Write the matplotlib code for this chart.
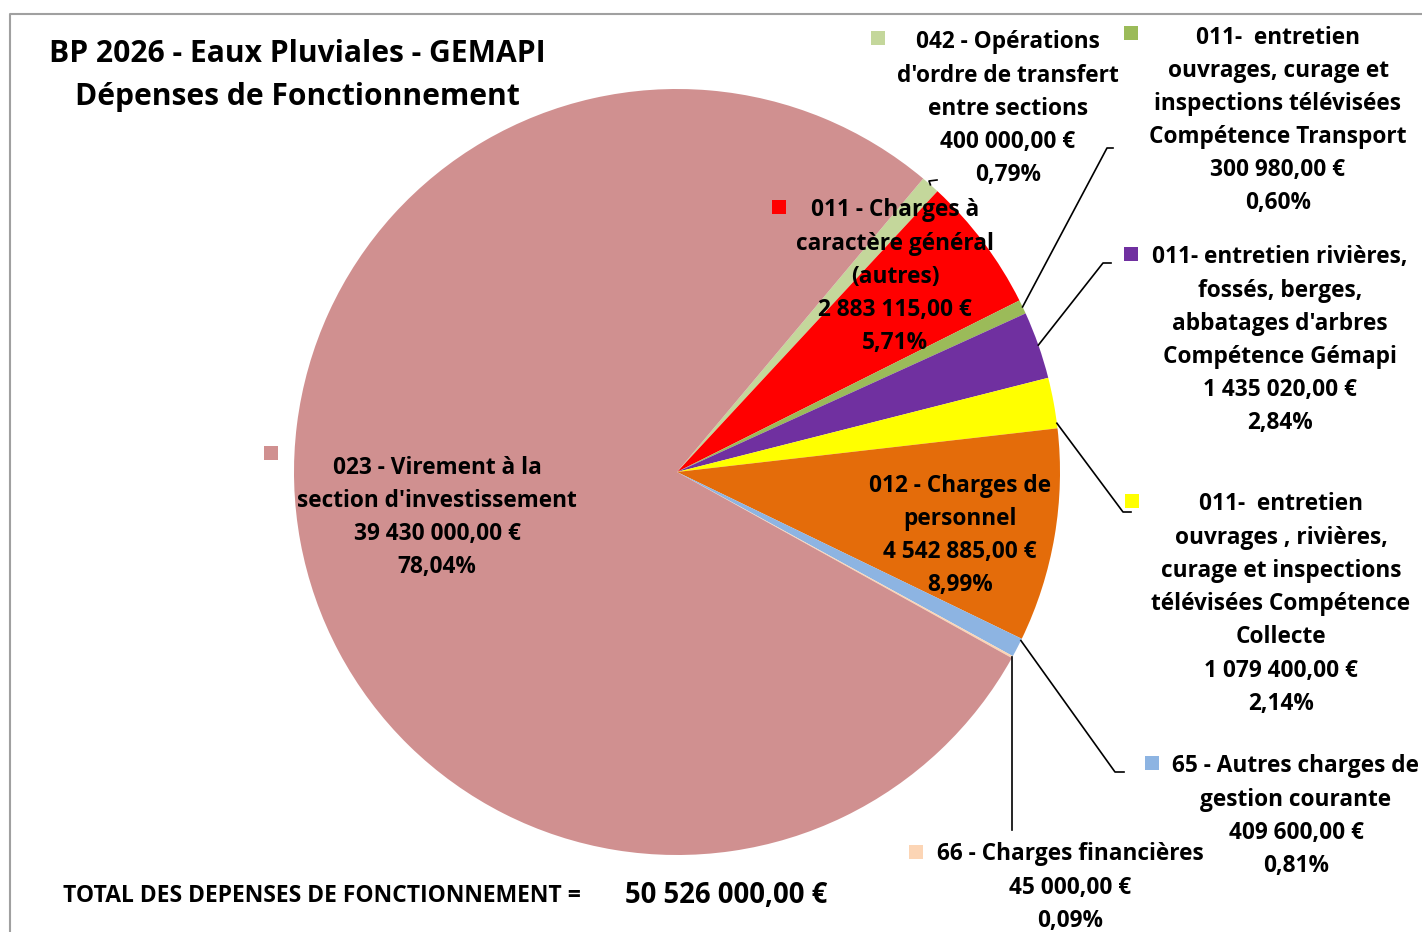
import matplotlib
matplotlib.use("Agg")
import matplotlib.pyplot as plt
from matplotlib.patches import Rectangle
import numpy as np

# ---- data (drawing order, clockwise) ----
codes = ["042", "011a", "011b", "011c", "011d", "012", "65", "66", "023"]
label_lines = [
    ["042 - Opérations", "d'ordre de transfert", "entre sections"],
    ["011 - Charges à", "caractère général", "(autres)"],
    ["011-  entretien", "ouvrages, curage et", "inspections télévisées", "Compétence Transport"],
    ["011- entretien rivières,", "fossés, berges,", "abbatages d'arbres", "Compétence Gémapi"],
    ["011-  entretien", "ouvrages , rivières,", "curage et inspections", "télévisées Compétence", "Collecte"],
    ["012 - Charges de", "personnel"],
    ["65 - Autres charges de", "gestion courante"],
    ["66 - Charges financières"],
    ["023 - Virement à la", "section d'investissement"],
]
amounts = ["400 000,00 €", "2 883 115,00 €", "300 980,00 €", "1 435 020,00 €",
           "1 079 400,00 €", "4 542 885,00 €", "409 600,00 €", "45 000,00 €",
           "39 430 000,00 €"]
values = [400000.00, 2883115.00, 300980.00, 1435020.00, 1079400.00,
          4542885.00, 409600.00, 45000.00, 39430000.00]
percents = ["0,79%", "5,71%", "0,60%", "2,84%", "2,14%", "8,99%", "0,81%", "0,09%", "78,04%"]
colors = ["#C4D79B", "#FF0000", "#9BBB59", "#7030A0", "#FFFF00",
          "#E46C0A", "#8DB4E2", "#FCD5B5", "#D09090"]
title_lines = ["BP 2026 - Eaux Pluviales - GEMAPI", "Dépenses de Fonctionnement"]
total_label = "TOTAL DES DEPENSES DE FONCTIONNEMENT ="
total_value = "50 526 000,00 €"

W, H = 1422, 932
fig = plt.figure(figsize=(W / 100, H / 100), dpi=100)
ax = fig.add_axes([0, 0, 1, 1])

FONT = "Open Sans"
TY = 2.5  # vertical text nudge (px)


def Y(y):
    return H - y


cx, cy, R = 677, 472, 383
wedges, _ = ax.pie(values, colors=colors, startangle=50, counterclock=False,
                   center=(cx, Y(cy)), radius=R, frame=True,
                   wedgeprops=dict(linewidth=0))
ax.set_xlim(0, W)
ax.set_ylim(0, H)
ax.set_aspect("equal")
ax.axis("off")

# frame
ax.plot([10, 10, W + 5], [Y(H + 5), Y(14), Y(14)], color="#A0A0A0", lw=1.5, zorder=0)


def edge_point(i, frac=0.5, r=1.0):
    w = wedges[i]
    t = np.deg2rad(w.theta1 + (w.theta2 - w.theta1) * frac)
    return cx + R * r * np.cos(t), Y(cy) + R * r * np.sin(t)


FS = 16.3
DY = 33.2


def label(i, x, y0, marker=None):
    lines = label_lines[i] + [amounts[i], percents[i]]
    for k, s in enumerate(lines):
        ax.text(x, Y(y0 + TY + k * DY), s, ha="center", va="center", fontsize=FS,
                fontweight="bold", family=FONT, color="black", zorder=5)
    if marker is not None:
        mx, my = marker
        ax.add_patch(Rectangle((mx - 7, Y(my) - 7), 14, 14, color=colors[i], lw=0, zorder=5))


def leader(i, pts, frac=0.5):
    x0, y0 = edge_point(i, frac)
    xs = [x0] + [p[0] for p in pts]
    ys = [y0] + [Y(p[1]) for p in pts]
    ax.plot(xs, ys, color="black", lw=1.2, zorder=4)


# labels
label(0, 1008, 40, marker=(878, 38))
leader(0, [(929, 181), (937, 180)])
label(2, 1278, 35, marker=(1131, 33))
leader(2, [(1107, 148), (1113, 148)])
label(1, 895, 208, marker=(779, 207))
label(3, 1280, 255, marker=(1131, 254))
leader(3, [(1103, 263), (1111, 263)])
label(4, 1281, 502, marker=(1132, 501))
leader(4, [(1123, 512), (1131, 512)], frac=0.1)
label(5, 960, 483)
label(6, 1296, 764, marker=(1152, 763))
leader(6, [(1115, 772), (1124, 772)], frac=0.9)
label(7, 1070, 852, marker=(916, 852))
x7, y7 = edge_point(7, 0.5)
ax.plot([x7, x7], [y7, Y(830)], color="black", lw=1.2, zorder=4)
label(8, 437, 465, marker=(271, 453))

# title
for k, s in enumerate(title_lines):
    ax.text(297, Y(52 + TY + k * 42), s, ha="center", va="center", fontsize=21.6,
            fontweight="bold", family=FONT, color="black")

# total
ax.text(63, Y(893 + TY), total_label, ha="left", va="center", fontsize=16.5,
        fontweight="bold", family=FONT, color="black")
ax.text(625, Y(893 + TY), total_value, ha="left", va="center", fontsize=19.8,
        fontweight="bold", family=FONT, color="black")

fig.savefig("out.png", dpi=100, facecolor="white")
